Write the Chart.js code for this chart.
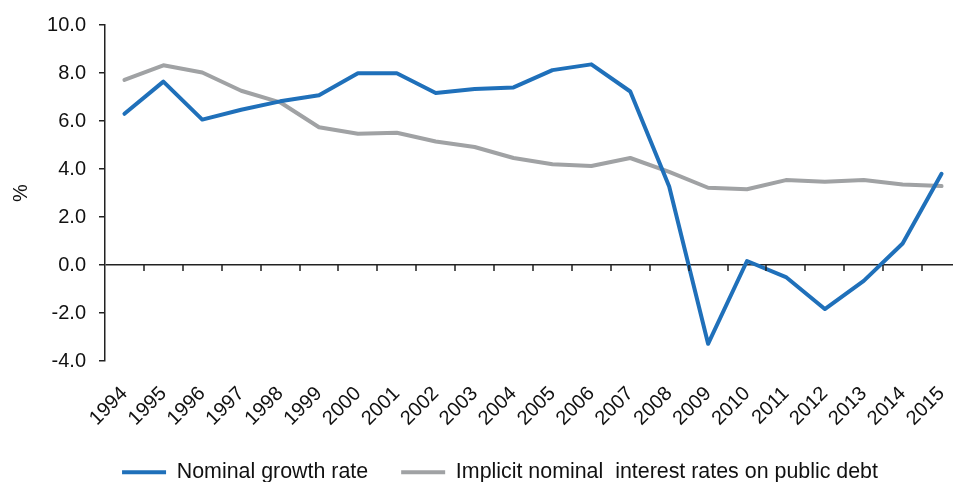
<!DOCTYPE html>
<html>
<head>
<meta charset="utf-8">
<script src="https://cdn.jsdelivr.net/npm/chart.js@4"></script>
<style>
    html, body { margin: 0; padding: 0; background: #fff; overflow: hidden; }
    #wrap { width: 1000px; height: 493px; }
</style>
</head>
<body>
<div id="wrap"><canvas id="chart-growth-interest" width="1000" height="493"></canvas></div>
<script>
/* ============================================
   Growth vs. implicit interest rate chart
   ============================================ */

const years = ['1994', '1995', '1996', '1997', '1998', '1999', '2000', '2001', '2002', '2003', '2004',
    '2005', '2006', '2007', '2008', '2009', '2010', '2011', '2012', '2013', '2014', '2015'];

const nominalGrowth = [6.30, 7.64, 6.06, 6.47, 6.82, 7.07, 7.99, 7.99, 7.17, 7.33, 7.40,
    8.12, 8.36, 7.23, 3.27, -3.28, 0.17, -0.50, -1.83, -0.66, 0.90, 3.80];

const implicitInterest = [7.71, 8.32, 8.02, 7.26, 6.78, 5.74, 5.47, 5.51, 5.15, 4.92, 4.46,
    4.20, 4.13, 4.46, 3.88, 3.22, 3.16, 3.54, 3.47, 3.54, 3.36, 3.29];

const yTicks = [-4, -2, 0, 2, 4, 6, 8, 10];

const seriesNames = ['Nominal growth rate', 'Implicit nominal  interest rates on public debt'];

const FONT = "'Liberation Sans', Arial, sans-serif";
const INK = '#111';

// short tick marks hanging under the zero line, at the category boundaries
const zeroTicks = {
    id: 'zeroTicks',
    afterDraw(chart) {
        const x = chart.scales.x;
        const y = chart.scales.y;
        const y0 = y.getPixelForValue(0);
        const band = x.getPixelForValue(1) - x.getPixelForValue(0);
        const ctx = chart.ctx;
        ctx.save();
        ctx.strokeStyle = '#222';
        ctx.lineWidth = 1.5;
        ctx.beginPath();
        for (let i = 1; i <= years.length; i++) {
            const px = Math.round(x.getPixelForValue(i - 1) + band / 2);
            ctx.moveTo(px, y0);
            ctx.lineTo(px, y0 + 6);
        }
        ctx.stroke();
        ctx.restore();
    }
};

const ctx = document.getElementById('chart-growth-interest').getContext('2d');

new Chart(ctx, {
    type: 'line',
    data: {
        labels: years,
        datasets: [
            {
                label: seriesNames[0],
                data: nominalGrowth,
                borderColor: '#1f70ba',
                backgroundColor: '#1f70ba',
                borderWidth: 4,
            },
            {
                label: seriesNames[1],
                data: implicitInterest,
                borderColor: '#a0a2a4',
                backgroundColor: '#a0a2a4',
                borderWidth: 4,
            }
        ]
    },
    options: {
        responsive: false,
        animation: false,
        devicePixelRatio: 1,
        layout: { padding: { top: 24, right: 0, left: 0, bottom: 0 } },
        elements: {
            point: { radius: 0, hoverRadius: 0 },
            line: { tension: 0, borderJoinStyle: 'round', borderCapStyle: 'round', fill: false }
        },
        plugins: {
            tooltip: { enabled: false },
            legend: {
                position: 'bottom',
                labels: {
                    color: INK,
                    font: { family: FONT, size: 21.4 },
                    usePointStyle: true,
                    pointStyle: 'line',
                    pointStyleWidth: 44,
                    padding: 33
                }
            }
        },
        scales: {
            x: {
                offset: true,
                grid: { display: false },
                border: { display: false },
                ticks: {
                    color: INK,
                    font: { family: FONT, size: 20 },
                    minRotation: 45,
                    maxRotation: 45,
                    autoSkip: false,
                    padding: 13
                },
                afterFit: s => { s.height = 67.5; }
            },
            y: {
                min: -4,
                max: 10,
                afterBuildTicks: s => { s.ticks = yTicks.map(v => ({ value: v })); },
                grid: {
                    color: c => (c.tick && c.tick.value === 0 ? '#222' : 'rgba(0,0,0,0)'),
                    lineWidth: 1.5,
                    tickColor: '#222',
                    tickLength: 6
                },
                border: { display: true, color: '#222', width: 1.5 },
                ticks: {
                    color: INK,
                    font: { family: FONT, size: 20 },
                    padding: 13,
                    callback: v => Number(v).toFixed(1)
                },
                title: {
                    display: true,
                    text: '%',
                    color: INK,
                    font: { family: FONT, size: 20 },
                    padding: { top: 9, bottom: 0 }
                },
                afterFit: s => { s.width = 105; }
            },
            // empty right-hand gutter; the plot runs a little past the visible edge
            gutter: {
                type: 'linear',
                position: 'right',
                grid: { display: false },
                border: { display: false },
                ticks: { display: false },
                afterFit: s => { s.width = 39; }
            }
        }
    },
    plugins: [zeroTicks]
});
</script>
</body>
</html>
